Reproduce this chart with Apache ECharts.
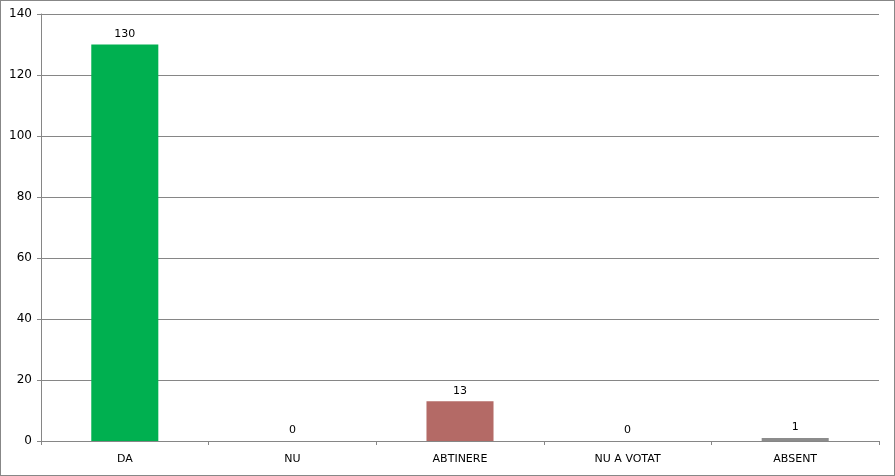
<!DOCTYPE html>
<html>
<head>
<meta charset="utf-8">
<script src="https://cdn.jsdelivr.net/npm/echarts@6/dist/echarts.min.js"></script>
<style>
    html, body { margin: 0; padding: 0; background: #fff; }
    #chart { width: 893px; height: 474px; border: 1px solid #878787; }
</style>
</head>
<body>
<div id="chart"></div>
<script>
    // categorii vot
    var categories = ['DA', 'NU', 'ABTINERE', 'NU A VOTAT', 'ABSENT'];
    var votes = [130, 0, 13, 0, 1];
    var yTicks = [0, 20, 40, 60, 80, 100, 120, 140];

    var barColors = ['#00B050', '#00B050', '#B46A66', '#8C8C8C', '#8C8C8C'];

    var myChart = echarts.init(document.getElementById('chart'));
    myChart.setOption({
        animation: false,
        textStyle: { fontFamily: 'DejaVu Sans', color: '#000' },
        grid: { left: 40, right: 15, top: 13, bottom: 34 },
        xAxis: {
            type: 'category',
            data: categories,
            axisLine: { lineStyle: { color: '#868686' } },
            axisTick: { show: true, length: 4, lineStyle: { color: '#868686' } },
            axisLabel: { color: '#000', fontSize: 11, margin: 13 }
        },
        yAxis: {
            type: 'value',
            min: yTicks[0],
            max: yTicks[yTicks.length - 1],
            interval: 20,
            axisLine: { show: true, lineStyle: { color: '#868686' } },
            axisTick: { show: true, length: 4, lineStyle: { color: '#868686' } },
            splitLine: { lineStyle: { color: '#868686' } },
            axisLabel: { color: '#000', fontSize: 12, margin: 9 }
        },
        series: [{
            type: 'bar',
            barWidth: '40%',
            data: votes.map(function (v, i) {
                return { value: v, itemStyle: { color: barColors[i] } };
            }),
            label: {
                show: true,
                position: 'top',
                distance: 5,
                color: '#000',
                fontSize: 11
            }
        }]
    });
</script>
</body>
</html>
